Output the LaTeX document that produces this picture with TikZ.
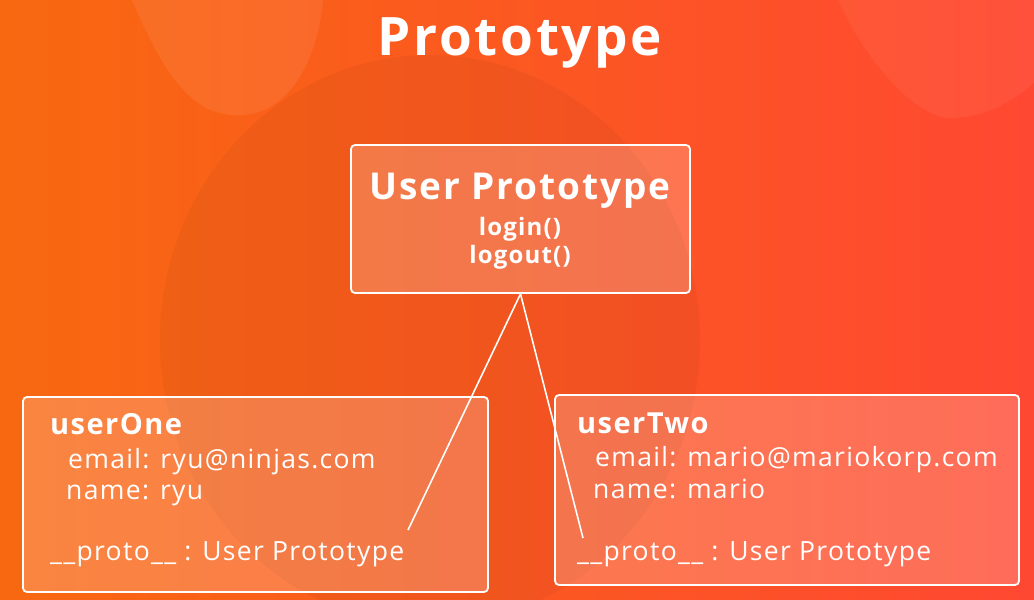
\documentclass[tikz,border=0pt]{standalone}
\usepackage{fontspec}
\setmainfont{Open Sans}[LetterSpace=5]
\usetikzlibrary{positioning}
\definecolor{bgleft}{RGB}{248,104,16}
\definecolor{bgright}{RGB}{255,72,50}

\begin{document}
\begin{tikzpicture}[x=1pt,y=-1pt,
  box/.style={draw=white,line width=1.8pt,rounded corners=4pt,fill=white,
    fill opacity=0.2,draw opacity=1,inner sep=0pt},
  label/.style={text=white,inner sep=0pt,anchor=base west,font=\fontsize{26.5}{26.5}\selectfont},
  head/.style={label,font=\fontsize{29}{29}\selectfont\bfseries},
  link/.style={draw=white,line width=1.6pt}]
  \useasboundingbox (0,0) rectangle (1034,600);
  % background
  \begin{scope}
    \clip (0,0) rectangle (1034,600);
    \shade[left color=bgleft,right color=bgright] (0,0) rectangle (1034,600);
    \fill[white,opacity=0.07] (132,0) .. controls (170,90) and (200,118) .. (244,115)
      .. controls (300,110) and (320,40) .. (323,0) -- cycle;
    \fill[white,opacity=0.05] (838,0) .. controls (870,70) and (920,118) .. (950,118)
      .. controls (990,118) and (1020,95) .. (1034,83) -- (1034,0) -- cycle;
    \fill[black,opacity=0.04] (430,340) ellipse (270 and 285);
  \end{scope}

  \node[text=white,inner sep=0pt,anchor=base,font=\fontsize{53}{53}\selectfont\bfseries]
    (title) at (520,55) {Prototype};

  % prototype box
  \node[box,minimum width=339pt,minimum height=148pt] (proto) at (520.5,219) {};
  \node[head,anchor=base,font=\fontsize{37}{37}\selectfont\bfseries] (protoname) at (520,199) {User Prototype};
  \node[label,anchor=base,font=\fontsize{24}{24}\selectfont\bfseries] (login) at (520,235) {login()};
  \node[label,anchor=base,font=\fontsize{24}{24}\selectfont\bfseries] (logout) at (520,263) {logout()};

  % userOne
  \node[box,minimum width=465pt,minimum height=195pt] (one) at (255.5,494.5) {};
  \node[head] (onename) at (50,434) {userOne};
  \node[label] (oneemail) at (68,468) {email: ryu@ninjas.com};
  \node[label] (onename2) at (66,499) {name: ryu};
  \node[label] (oneproto) at (50,560) {\_\_proto\_\_ : User Prototype};

  % userTwo
  \node[box,minimum width=464pt,minimum height=190pt] (two) at (787,490) {};
  \node[head] (twoname) at (577,433) {userTwo};
  \node[label] (twoemail) at (595,466) {email: mario@mariokorp.com};
  \node[label] (twoname2) at (593,498) {name: mario};
  \node[label] (twoproto) at (577,560) {\_\_proto\_\_ : User Prototype};

  \coordinate (oneend) at (408,530);
  \coordinate (twoend) at (583,538);
  \draw[link] (proto.south) -- (oneend);
  \draw[link] (proto.south) -- (twoend);
\end{tikzpicture}
\end{document}
